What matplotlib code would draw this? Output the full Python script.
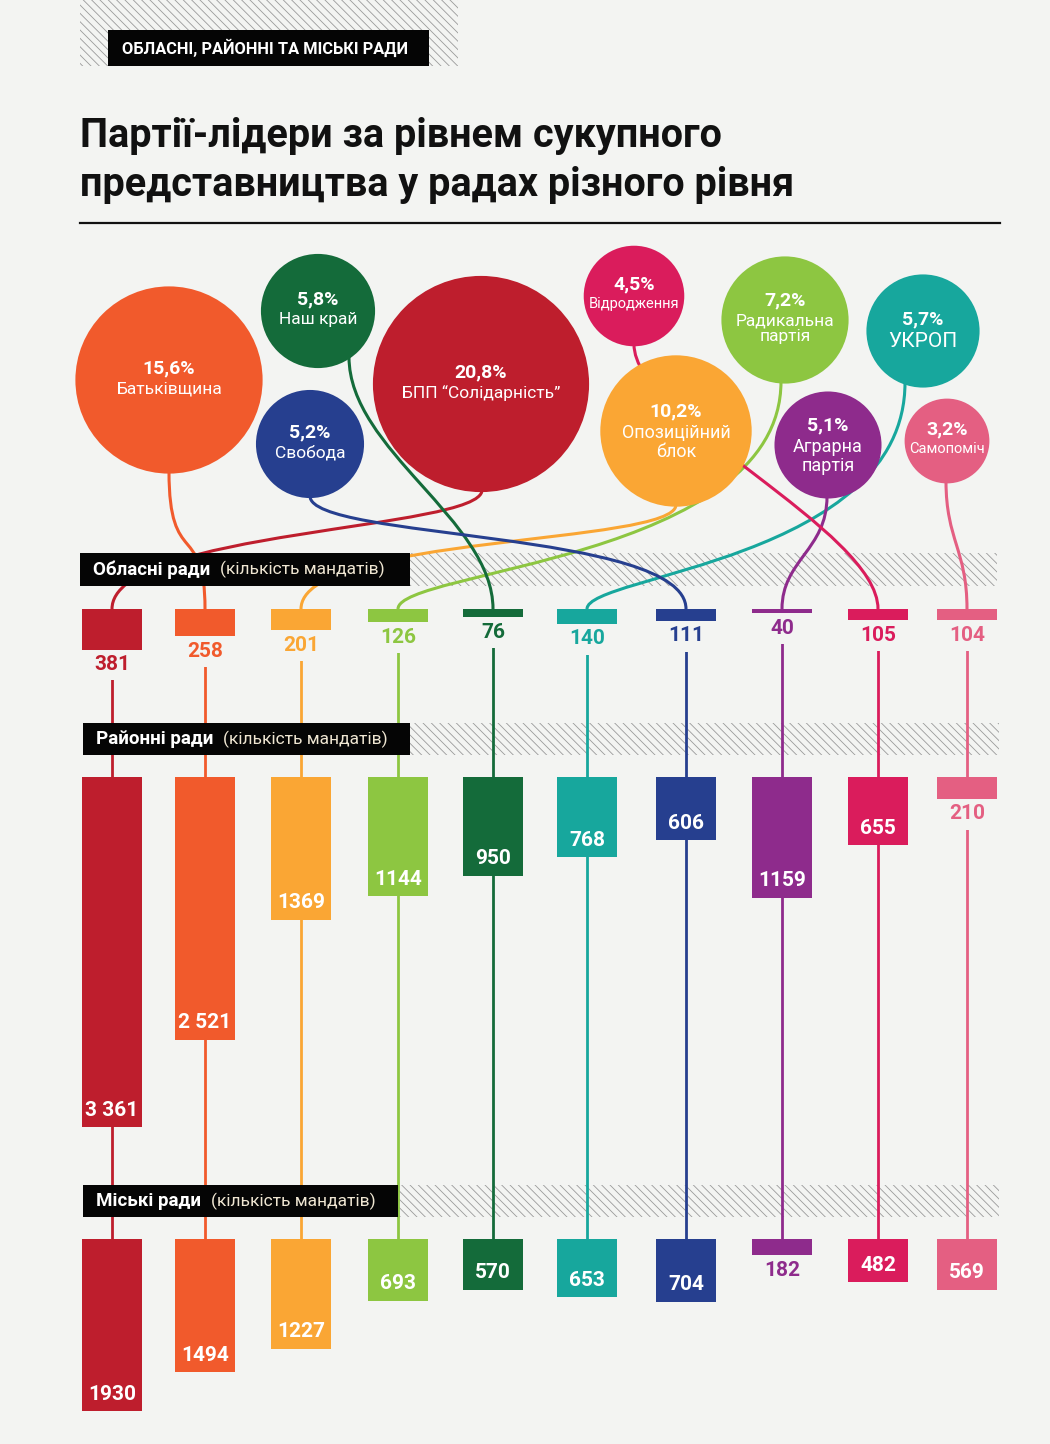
import numpy as np
import matplotlib
matplotlib.use('Agg')
import matplotlib.pyplot as plt
from matplotlib.patches import Rectangle, Circle, PathPatch
from matplotlib.path import Path

# ---------------- data ----------------
parties = ['БПП “Солідарність”', 'Батьківщина', 'Опозиційний блок', 'Радикальна партія',
           'Наш край', 'УКРОП', 'Свобода', 'Аграрна партія', 'Відродження', 'Самопоміч']
bubble_names = ['БПП “Солідарність”', 'Батьківщина', 'Опозиційний\nблок', 'Радикальна\nпартія',
                'Наш край', 'УКРОП', 'Свобода', 'Аграрна\nпартія', 'Відродження', 'Самопоміч']
share = [20.8, 15.6, 10.2, 7.2, 5.8, 5.7, 5.2, 5.1, 4.5, 3.2]
oblasni = [381, 258, 201, 126, 76, 140, 111, 40, 105, 104]
raionni = [3361, 2521, 1369, 1144, 950, 768, 606, 1159, 655, 210]
miski = [1930, 1494, 1227, 693, 570, 653, 704, 182, 482, 569]
colors = ['#BE1E2D', '#F15A2C', '#FAA634', '#8DC641', '#146B3A',
          '#17A79D', '#263F8F', '#8E2B8C', '#DA1C5C', '#E45F82']

header = 'ОБЛАСНІ, РАЙОННІ ТА МІСЬКІ РАДИ'
title = 'Партії-лідери за рівнем сукупного\nпредставництва у радах різного рівня'
section_titles = ['Обласні ради', 'Районні ради', 'Міські ради']
section_sub = '(кількість мандатів)'

# ---------------- layout / style ----------------
BG = '#f3f4f2'
SANS = ['Roboto', 'DejaVu Sans']
NUM = ['Liberation Sans Narrow', 'Roboto', 'DejaVu Sans']
HATCH = '\\\\\\\\'

col_x = [112, 205, 301, 398, 493, 587, 686, 782, 878, 967]
bar_w = 60
bubble_c = [(481, 384), (169, 380), (676, 431), (785, 320), (318, 311),
            (923, 331), (310, 444), (828, 445), (634, 296), (947, 441)]
name_fs = [12.5, 12.5, 13, 12.5, 12.5, 15, 12.5, 13, 10.5, 10.5]
conn = [(1, 530, 530), (0, 570, 520), (0, 545, 535), (-4, 560, 570), (31, 450, 520),
        (-18, 560, 575), (0, 540, 530), (-1, 550, 560), (0, 420, 530), (-1, 540, 550)]
sections = [(oblasni, 609, 9.4, (80, 553, 997, 586), 330),
            (raionni, 777, 9.6, (83, 723, 999, 755), 327),
            (miski, 1239, 11.2, (83, 1185, 999, 1217), 315)]

plt.rcParams['hatch.linewidth'] = 0.6

fig = plt.figure(figsize=(10.5, 14.44), dpi=100, facecolor=BG)
ax = fig.add_axes([0, 0, 1, 1])
ax.set_xlim(0, 1050)
ax.set_ylim(1444, 0)
ax.axis('off')

# header
ax.add_patch(Rectangle((80, 0), 378, 66, facecolor=BG, edgecolor='#9a9a9a',
                       hatch=HATCH, lw=0, zorder=1))
ax.add_patch(Rectangle((108, 30), 321, 36, facecolor='#050505', lw=0, zorder=4))
ax.text(122, 48, header, color='white', fontsize=11.8, fontweight='bold',
        family=SANS, va='center', ha='left', zorder=5)

# title
ax.text(80, 136, title.split('\n')[0], fontsize=28.5, fontweight='bold', family=SANS,
        color='#111111', va='center', ha='left')
ax.text(80, 185, title.split('\n')[1], fontsize=28.5, fontweight='bold', family=SANS,
        color='#111111', va='center', ha='left')
ax.plot([80, 1000], [223, 223], color='#111111', lw=1.6)

# bubbles
radius = 23.7 * np.sqrt(np.array(share))
for i in range(len(parties)):
    cx, cy = bubble_c[i]
    r = radius[i]
    ax.add_patch(Circle((cx, cy), r, facecolor=colors[i], edgecolor='none', zorder=3))
    nlines = bubble_names[i].count('\n') + 1
    yp = cy - (12 if nlines == 1 else 20)
    ax.text(cx, yp, f'{share[i]:.1f}%'.replace('.', ','), color='white', fontsize=14,
            fontweight='bold', family=SANS, ha='center', va='center', zorder=4)
    ax.text(cx, yp + 13, bubble_names[i], color='white', fontsize=name_fs[i],
            family=SANS, ha='center', va='top', linespacing=1.05, zorder=4)
    # connector curve from bubble to top of regional bar
    dx, c1, c2 = conn[i]
    x0 = cx + dx
    y0 = cy + np.sqrt(r ** 2 - dx ** 2) - 2
    x1, y1 = col_x[i], sections[0][1]
    path = Path([(x0, y0), (x0, c1), (x1, c2), (x1, y1)],
                [Path.MOVETO, Path.CURVE4, Path.CURVE4, Path.CURVE4])
    ax.add_patch(PathPatch(path, facecolor='none', edgecolor=colors[i], lw=2.2, zorder=2))

# vertical connectors through the sections
obl_h = np.array(oblasni) / sections[0][2]
ax.vlines(col_x, sections[0][1] + obl_h, sections[2][1], colors=colors, lw=2, zorder=2)


def fmt(v):
    s = str(v)
    return s[:-3] + ' ' + s[-3:] if v >= 2000 else s


for k, (vals, top, scale, band, boxw) in enumerate(sections):
    bx0, by0, bx1, by1 = band
    ax.add_patch(Rectangle((bx0, by0), bx1 - bx0, by1 - by0, facecolor=BG,
                           edgecolor='#9a9a9a', hatch=HATCH, lw=0, zorder=1))
    ax.add_patch(Rectangle((bx0, by0), boxw, by1 - by0, facecolor='#050505', lw=0, zorder=4))
    t1 = ax.text(bx0 + 13, (by0 + by1) / 2, section_titles[k], color='white',
                 fontsize=13.5, fontweight='bold', family=SANS, va='center', zorder=5)
    ax.annotate(section_sub, xy=(1, 0.5), xycoords=t1, xytext=(7, 0),
                textcoords='offset points', color='#efe6d2', fontsize=12.5,
                family=SANS, va='center', zorder=5)
    h = np.array(vals) / scale
    ax.bar(col_x, h, bottom=top, width=bar_w, color=colors, zorder=3)
    for i, v in enumerate(vals):
        if h[i] > 42:
            ax.text(col_x[i], top + h[i] - 17, fmt(v), color='white', fontsize=15,
                    fontweight='bold', family=NUM, ha='center', va='center', zorder=5)
        else:
            ax.text(col_x[i], top + h[i] + 15, fmt(v), color=colors[i], fontsize=15,
                    fontweight='bold', family=NUM, ha='center', va='center', zorder=2.5,
                    bbox=dict(boxstyle='square,pad=0.3', facecolor=BG, edgecolor='none'))

fig.savefig('out.png', dpi=100, facecolor=BG)
